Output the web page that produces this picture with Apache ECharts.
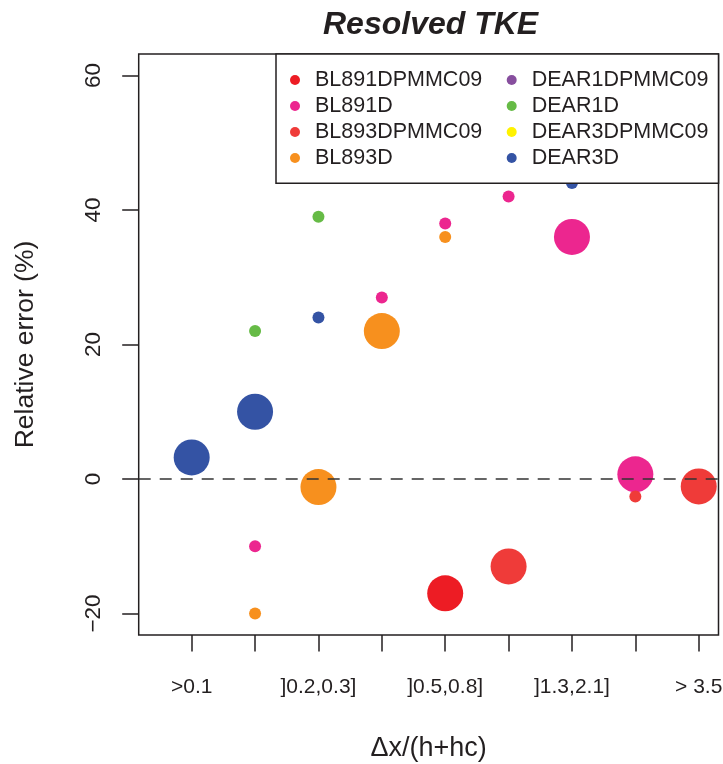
<!DOCTYPE html>
<html>
<head>
<meta charset="utf-8">
<script src="https://cdn.jsdelivr.net/npm/echarts@6/dist/echarts.min.js"></script>
<style>
html,body{margin:0;padding:0;background:#fff;overflow:hidden;}
#chart{width:723px;height:764px;}
</style>
</head>
<body>
<div id="chart"></div>
<script>
// ---- data ----
const tickLabels = [">0.1", "", "]0.2,0.3]", "", "]0.5,0.8]", "", "]1.3,2.1]", "", "> 3.5"];
const yTicks = [-20, 0, 20, 40, 60];
const seriesNames = ["BL891DPMMC09", "BL891D", "BL893DPMMC09", "BL893D",
                     "DEAR1DPMMC09", "DEAR1D", "DEAR3DPMMC09", "DEAR3D"];
// category index (1..9), relative error (%), marker class (1 = large, 0 = small)
const BL891DPMMC09_x = [5];
const BL891DPMMC09_y = [-17.0];
const BL891DPMMC09_c = [1];
const BL891D_x = [2, 4, 5, 6, 7, 8];
const BL891D_y = [-10.0, 27.0, 38.0, 42.0, 36.0, 0.7];
const BL891D_c = [0, 0, 0, 0, 1, 1];
const BL893DPMMC09_x = [6, 8, 9];
const BL893DPMMC09_y = [-13.0, -2.6, -1.1];
const BL893DPMMC09_c = [1, 0, 1];
const BL893D_x = [2, 3, 4, 5];
const BL893D_y = [-20.0, -1.2, 22.0, 36.0];
const BL893D_c = [0, 1, 1, 0];
const DEAR1DPMMC09_x = [];
const DEAR1DPMMC09_y = [];
const DEAR1DPMMC09_c = [];
const DEAR1D_x = [2, 3];
const DEAR1D_y = [22.0, 39.0];
const DEAR1D_c = [0, 0];
const DEAR3DPMMC09_x = [];
const DEAR3DPMMC09_y = [];
const DEAR3DPMMC09_c = [];
const DEAR3D_x = [1, 2, 3, 7];
const DEAR3D_y = [3.2, 10.0, 24.0, 44.0];
const DEAR3D_c = [1, 1, 0, 0];

const seriesData = {
  BL891DPMMC09: [BL891DPMMC09_x, BL891DPMMC09_y, BL891DPMMC09_c],
  BL891D: [BL891D_x, BL891D_y, BL891D_c],
  BL893DPMMC09: [BL893DPMMC09_x, BL893DPMMC09_y, BL893DPMMC09_c],
  BL893D: [BL893D_x, BL893D_y, BL893D_c],
  DEAR1DPMMC09: [DEAR1DPMMC09_x, DEAR1DPMMC09_y, DEAR1DPMMC09_c],
  DEAR1D: [DEAR1D_x, DEAR1D_y, DEAR1D_c],
  DEAR3DPMMC09: [DEAR3DPMMC09_x, DEAR3DPMMC09_y, DEAR3DPMMC09_c],
  DEAR3D: [DEAR3D_x, DEAR3D_y, DEAR3D_c]
};

// ---- styles ----
const colors = {
  BL891DPMMC09: "#ED1C24",
  BL891D: "#EC268F",
  BL893DPMMC09: "#EF3B39",
  BL893D: "#F7901E",
  DEAR1DPMMC09: "#874E9E",
  DEAR1D: "#66BB46",
  DEAR3DPMMC09: "#FFF200",
  DEAR3D: "#3453A4"
};
const FONT = "'Liberation Sans', Arial, Helvetica, sans-serif";
const INK = "#231F20";

const chart = echarts.init(document.getElementById('chart'), null, {renderer: 'canvas'});

const series = seriesNames.map(function (name) {
  const d = seriesData[name];
  return {
    name: name,
    type: 'scatter',
    data: d[0].map(function (x, i) { return [x, d[1][i], d[2][i]]; }),
    symbol: 'circle',
    symbolSize: function (v) { return v[2] === 1 ? 36 : 12; },
    itemStyle: { color: colors[name], opacity: 1 },
    emphasis: { disabled: true },
    z: 2
  };
});
series.push({
  name: 'zero',
  type: 'scatter',
  data: [],
  z: 10,
  markLine: {
    silent: true,
    symbol: ['none', 'none'],
    label: { show: false },
    lineStyle: { color: '#333', width: 1.6, type: [12, 9] },
    data: [{ yAxis: 0 }],
    animation: false
  }
});

function legendData(names) {
  return names.map(function (n) { return { name: n, icon: 'circle', itemStyle: { color: colors[n] } }; });
}
const legendCommon = {
  orient: 'vertical',
  top: 69,
  padding: 0,
  itemGap: 4,
  itemWidth: 30,
  itemHeight: 10,
  selectedMode: false,
  z: 6,
  textStyle: { fontFamily: FONT, fontSize: 21.5, color: INK, lineHeight: 22 }
};

const option = {
  animation: false,
  backgroundColor: '#fff',
  title: {
    text: 'Resolved TKE',
    left: 318,
    top: 4,
    textStyle: { fontFamily: FONT, fontSize: 32, fontWeight: 'bold', fontStyle: 'italic', color: INK }
  },
  grid: {
    left: 138.7, right: 4.5, top: 54, bottom: 129,
    show: true, borderColor: INK, borderWidth: 1.5, backgroundColor: 'transparent',
    containLabel: false,
    outerBoundsMode: 'none'
  },
  xAxis: {
    type: 'value',
    min: 0.164, max: 9.312,
    splitLine: { show: false },
    axisLine: { show: false, onZero: false },
    axisTick: { show: true, length: 16.5, customValues: [1, 2, 3, 4, 5, 6, 7, 8, 9],
                lineStyle: { color: INK, width: 1.5 } },
    axisLabel: { show: true, customValues: [1, 3, 5, 7, 9], margin: 42,
                 formatter: function (v) { return tickLabels[Math.round(v) - 1]; },
                 fontFamily: FONT, fontSize: 21, color: INK },
    name: 'Δx/(h+hc)',
    nameLocation: 'middle',
    nameGap: 100,
    nameTextStyle: { fontFamily: FONT, fontSize: 27, color: INK }
  },
  yAxis: {
    type: 'value',
    min: -23.2, max: 63.2,
    splitLine: { show: false },
    axisLine: { show: false, onZero: false },
    axisTick: { show: true, length: 16.5, customValues: yTicks,
                lineStyle: { color: INK, width: 1.5 } },
    axisLabel: { show: true, customValues: yTicks, rotate: 90, margin: 33,
                 formatter: function (v) { return String(v).replace('-', '\u2212'); },
                 fontFamily: FONT, fontSize: 22.5, color: INK },
    name: 'Relative error (%)',
    nameLocation: 'middle',
    nameRotate: 90,
    nameGap: 100,
    nameTextStyle: { fontFamily: FONT, fontSize: 26.5, color: INK }
  },
  legend: [
    Object.assign({}, legendCommon, { left: 290, data: legendData(seriesNames.slice(0, 4)) }),
    Object.assign({}, legendCommon, { left: 506.7, data: legendData(seriesNames.slice(4, 8)) })
  ],
  graphic: {
    elements: [{
      type: 'rect',
      z: 5,
      shape: { x: 276, y: 54, width: 442.5, height: 129.3 },
      style: { fill: '#fff', stroke: INK, lineWidth: 1.5 }
    }]
  },
  series: series
};
chart.setOption(option);
</script>
</body>
</html>
